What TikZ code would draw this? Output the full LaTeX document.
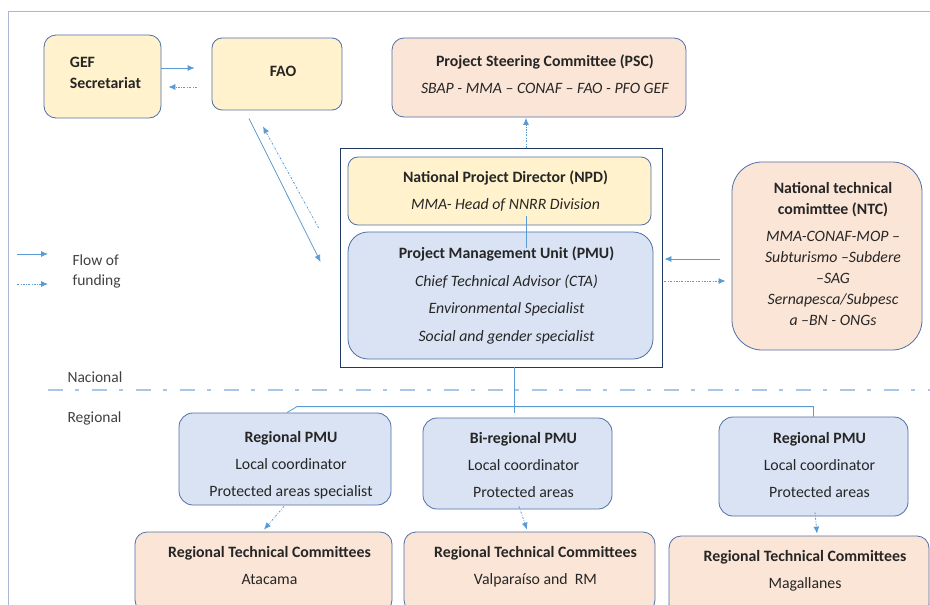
\documentclass[tikz,border=0pt]{standalone}
\usepackage{fontspec}
\setmainfont{Carlito}
\usetikzlibrary{arrows.meta}
\definecolor{gefyellow}{HTML}{FFF2CC}
\definecolor{peach}{HTML}{FBE5D6}
\definecolor{paleblue}{HTML}{DAE3F3}
\definecolor{boxline}{HTML}{4F6FA8}
\definecolor{flowblue}{HTML}{5B9BD5}
\definecolor{navy}{HTML}{1F3864}
\definecolor{framegray}{HTML}{A9B7D0}
\definecolor{dashblue}{HTML}{A9C6E8}
\definecolor{ink}{HTML}{262626}
\definecolor{soft}{HTML}{404040}
\newcommand{\nudge}{\hspace*{12pt}}
\tikzset{unit/.style={rectangle, rounded corners=12pt, draw=boxline, line width=0.8pt, inner sep=2pt, align=center, text=ink, font=\fontsize{15.8}{19}\selectfont},
       yunit/.style={unit, fill=gefyellow},
       punit/.style={unit, fill=peach},
       bunit/.style={unit, fill=paleblue},
       fund/.style={flowblue, line width=0.8pt, -{Latex[length=7pt,width=6pt]}},
       report/.style={fund, dash pattern=on 2pt off 1.5pt on 0.6pt off 1.5pt},
       tag/.style={anchor=west, align=left, text=soft, font=\fontsize{15.5}{20}\selectfont}}

\begin{document}
\begin{tikzpicture}[x=1pt, y=-1pt]
\useasboundingbox (0,0) rectangle (930,605);
\clip (0,0) rectangle (930,605);
\draw [framegray, line width=0.8pt] (8,11) rectangle (945,625);

\node [yunit, minimum width=117, minimum height=83, align=left] (gef) at (102.5,76.5) {\hspace*{6pt}\textbf{GEF}\\[2pt]\hspace*{6pt}\textbf{Secretariat}\\[-11pt]};
\node [yunit, rounded corners=10pt, minimum width=130, minimum height=72] (fao) at (277,74) {\nudge\textbf{FAO}\\[-13pt]};
\node [punit, minimum width=294, minimum height=79] (psc) at (539,77.5) {\nudge\textbf{Project Steering Committee (PSC)}\\[8pt]\nudge\textit{SBAP - MMA -- CONAF -- FAO - PFO GEF}\\[-13pt]};

\node [draw=navy, line width=0.8pt, minimum width=322, minimum height=219] (core) at (501,257.5) {};
\node [yunit, rounded corners=10pt, minimum width=303, minimum height=68] (npd) at (499.5,191) {\nudge\textbf{National Project Director (NPD)}\\[8pt]\nudge\textit{MMA- Head of NNRR Division}};
\node [bunit, rounded corners=20pt, minimum width=305, minimum height=127] (pmu) at (500.5,295.5) {\nudge\textbf{Project Management Unit (PMU)}\\[8.5pt]\nudge\textit{Chief Technical Advisor (CTA)}\\[8.5pt]\nudge\textit{Environmental Specialist}\\[8.5pt]\nudge\textit{Social and gender specialist}};

\node [punit, rounded corners=30pt, minimum width=190, minimum height=188, font=\fontsize{15.8}{21}\selectfont] (ntc) at (827,256) {\nudge\textbf{National technical}\\\nudge\textbf{comimttee (NTC)}\\[6pt]\nudge\textit{MMA-CONAF-MOP --}\\\nudge\textit{Subturismo --Subdere}\\\nudge\textit{--SAG}\\\nudge\textit{Sernapesca/Subpesc}\\\nudge\textit{a --BN - ONGs}\\[-16pt]};

\node [bunit, rounded corners=14pt, minimum width=212, minimum height=92] (rpmua) at (285,459) {\nudge\textbf{Regional PMU}\\[8pt]\nudge Local coordinator\\[8pt]\nudge Protected areas specialist\\[-29pt]};
\node [bunit, rounded corners=14pt, minimum width=189, minimum height=91] (bpmu) at (517.5,463.5) {\nudge\textbf{Bi-regional PMU}\\[8pt]\nudge Local coordinator\\[8pt]\nudge Protected areas\\[-22pt]};
\node [bunit, rounded corners=14pt, minimum width=189, minimum height=99] (rpmub) at (813.5,466.5) {\nudge\textbf{Regional PMU}\\[8pt]\nudge Local coordinator\\[8pt]\nudge Protected areas\\[-16pt]};

\node [punit, minimum width=257, minimum height=80] (rtca) at (263.5,572) {\nudge\textbf{Regional Technical Committees}\\[8pt]\nudge Atacama\\[-5pt]};
\node [punit, minimum width=251, minimum height=80] (rtcb) at (529.5,572) {\nudge\textbf{Regional Technical Committees}\\[8pt]\nudge Valparaíso and\ \ RM\\[-5pt]};
\node [punit, minimum width=260, minimum height=80] (rtcc) at (799,576) {\nudge\textbf{Regional Technical Committees}\\[8pt]\nudge Magallanes\\[-5pt]};

\draw [fund] ([yshift=8.5]gef.east) -- ([xshift=-17,yshift=6]fao.west);
\draw [report] ([xshift=-15,yshift=-13]fao.west) -- ([xshift=7,yshift=-10.5]gef.east);
\draw [fund] ([xshift=-28,yshift=-8]fao.south) -- ([xshift=-19,yshift=-4.5]core.west);
\draw [report] ([xshift=-21,yshift=29.5]core.west) -- ([xshift=-14,yshift=-16]fao.south);
\draw [report] ([xshift=25]core.north) -- ([xshift=-13,yshift=-0.5]psc.south);
\draw [flowblue, line width=0.8pt] ([xshift=26.5,yshift=9]npd.south) -- ([xshift=25.5,yshift=-16]pmu.north);
\draw [fund] ([xshift=-12,yshift=-3]ntc.west) -- ([xshift=2,yshift=-1.5]core.east);
\draw [report] ([xshift=2,yshift=-23.5]core.east) -- ([xshift=-6,yshift=-25]ntc.west);

\draw [flowblue, line width=0.8pt] ([xshift=13]core.south) -- ([xshift=-3.5,yshift=5]bpmu.north);
\draw [flowblue, line width=0.8pt] ([xshift=2]rpmua.north) -- ++(10,-6) -| (rpmub.north);
\draw [report] ([xshift=-1,yshift=-1]rpmua.south) -- ([xshift=0.5,yshift=2]rtca.north);
\draw [report] ([xshift=1.5,yshift=3]bpmu.south) -- ([xshift=-2.5,yshift=2]rtcb.north);
\draw [report] ([xshift=1.5,yshift=4]rpmub.south) -- ([xshift=18,yshift=2]rtcc.north);

\coordinate (lega) at (17,254);
\coordinate (legb) at (48,254);
\coordinate (legc) at (17,284);
\coordinate (legd) at (48,284);
\draw [fund] (lega) -- (legb);
\draw [report] (legc) -- (legd);
\node [tag] (legend) at (69,271) {Flow of\\funding};

\coordinate (cuta) at (48,390);
\coordinate (cutb) at (930,390);
\draw [dashblue, line width=1.2pt, dash pattern=on 15pt off 12pt on 4pt off 13pt] (cuta) -- (cutb);
\node [tag] (nacional) at (64,377) {Nacional};
\node [tag] (regional) at (64,418) {Regional};
\end{tikzpicture}
\end{document}
